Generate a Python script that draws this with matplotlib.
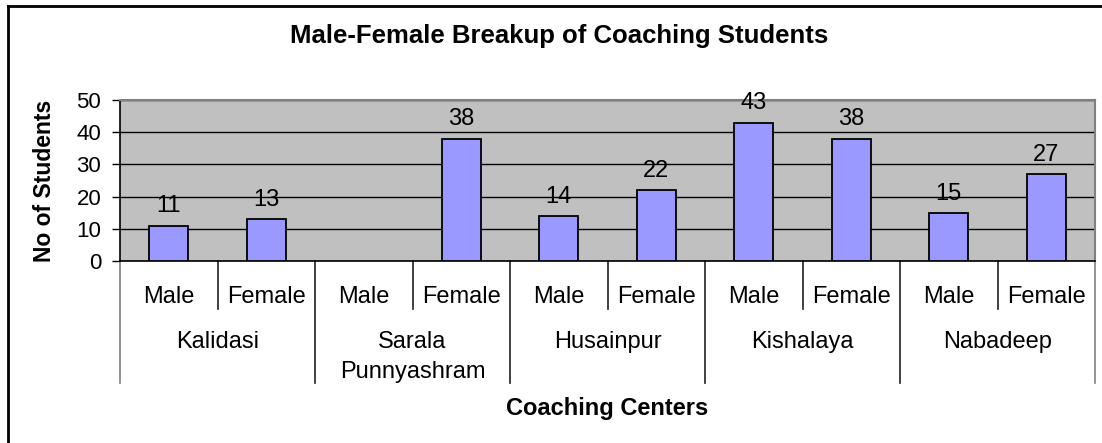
import matplotlib
matplotlib.use("Agg")
import matplotlib.pyplot as plt
import numpy as np
from matplotlib.lines import Line2D
from matplotlib.transforms import blended_transform_factory

# Data
centers = ["Kalidasi", "Sarala\nPunnyashram", "Husainpur", "Kishalaya", "Nabadeep"]
genders = ["Male", "Female"]
male = [11, None, 14, 43, 15]
female = [13, 38, 22, 38, 27]
yticks = [0, 10, 20, 30, 40, 50]

plt.rcParams['font.family'] = ['Liberation Sans', 'DejaVu Sans']

W, H = 1102, 443
fig = plt.figure(figsize=(W / 100, H / 100), dpi=100)
fig.patch.set_facecolor('white')

# plot-area edges in pixels
L, R, T, B = 120, 1095, 100, 261
ax = fig.add_axes([L / W, 1 - B / H, (R - L) / W, (B - T) / H])
ax.set_facecolor('#C0C0C0')


def ay(ypx):
    """pixel row -> axes fraction"""
    return (B - ypx) / (B - T)


def fy(ypx):
    return 1 - ypx / H


values = []
for m, f in zip(male, female):
    values += [m, f]
pos = np.arange(len(values)) + 0.5

for x, v in zip(pos, values):
    if v is None:
        continue
    ax.bar(x, v, width=0.4, color='#9999FF', edgecolor='black',
           linewidth=1.3, zorder=3)
    ax.annotate(str(v), (x, v), xytext=(0, 9.5), textcoords='offset points',
                ha='center', va='baseline', fontsize=17, color='black')

ax.set_xlim(0, len(values))
ax.set_ylim(0, 50)
ax.set_yticks(yticks)
ax.set_xticks([])
ax.tick_params(axis='y', direction='out', length=5.5, width=1,
               labelsize=16, pad=8, colors='black')
ax.yaxis.grid(True, color='black', linewidth=1)
ax.set_axisbelow(True)
for s in ['top', 'right']:
    ax.spines[s].set_color('#808080')
    ax.spines[s].set_linewidth(1.5)
ax.spines['left'].set_color('black')
ax.spines['bottom'].set_color('black')
ax.spines['left'].set_linewidth(1.2)
ax.spines['bottom'].set_linewidth(1.2)

# Two-level category axis
tr = blended_transform_factory(ax.transData, ax.transAxes)
n = len(values)
for k in range(n + 1):
    if k % 2 == 0:
        y_end = ay(383)
        col = '#808080' if k in (0, n) else '#202020'
    else:
        y_end = ay(309)
        col = '#202020'
    ax.add_line(Line2D([k, k], [0, y_end], transform=tr, color=col,
                       linewidth=1.2, clip_on=False))

for i, x in enumerate(pos):
    ax.text(x, ay(303), genders[i % 2], transform=tr, ha='center',
            va='baseline', fontsize=17)

for j, name in enumerate(centers):
    for li, line in enumerate(name.split('\n')):
        ax.text(2 * j + 1, ay(348 + 30 * li), line, transform=tr,
                ha='center', va='baseline', fontsize=17)

# Titles
fig.text(559 / W, fy(43), "Male-Female Breakup of Coaching Students",
         ha='center', va='baseline', fontsize=18.5, fontweight='bold')
fig.text((L + R) / 2 / W, fy(415), "Coaching Centers",
         ha='center', va='baseline', fontsize=17, fontweight='bold')
fig.text(45 / W, fy((T + B) / 2), "No of Students", rotation=90,
         ha='center', va='center', fontsize=16.5, fontweight='bold')

# Chart-area frame (top and left edges fall inside the canvas)
fig.add_artist(Line2D([7.5 / W, 1.0], [fy(6), fy(6)], color='black',
                      linewidth=2, transform=fig.transFigure))
fig.add_artist(Line2D([7.5 / W, 7.5 / W], [fy(6), 0.0], color='black',
                      linewidth=2, transform=fig.transFigure))

fig.savefig('out.png', dpi=100)
